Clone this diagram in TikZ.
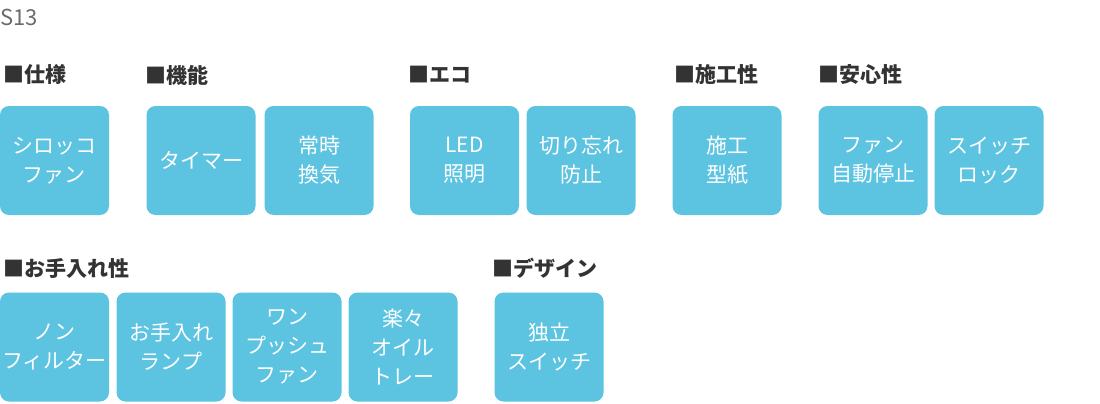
\documentclass[tikz,border=0pt]{standalone}
\usepackage{fontspec}
\setmainfont{Noto Sans CJK JP}
\usetikzlibrary{positioning}
\definecolor{featblue}{HTML}{5CC3E1}
\definecolor{headgray}{HTML}{333333}
\tikzset{
    feat/.style={
        fill=featblue,
        rounded corners=9pt,
        minimum width=109pt,
        minimum height=109pt,
        inner sep=0pt,
        text=white,
        align=center,
        font=\fontsize{21pt}{29pt}\selectfont
    },
    head/.style={
        anchor=west,
        inner sep=0pt,
        text=headgray,
        font=\bfseries\fontsize{21pt}{25pt}\selectfont
    }
}
\begin{document}
\begin{tikzpicture}[x=1pt,y=1pt]
    \useasboundingbox (0,0) rectangle (1100,-404);
    % Title
    \node[head, font=\fontsize{22pt}{26pt}\selectfont, text=gray!85!black] (title) at (0,-17) {S13};
    % Headers - row 1
    \node[head] (hspec) at (3,-75) {■仕様};
    \node[head] (hfunc) at (145,-75) {■機能};
    \node[head] (heco) at (408,-75) {■エコ};
    \node[head] (hwork) at (674,-75) {■施工性};
    \node[head] (hsafe) at (818,-75) {■安心性};
    % Boxes - row 1
    \node[feat] (sirocco) at (54.5,-160.5) {シロッコ\\ファン};
    \node[feat] (timer) at (201,-160.5) {タイマー};
    \node[feat] (vent) at (319,-160.5) {常時\\換気};
    \node[feat] (led) at (464.5,-160.5) {LED\\照明};
    \node[feat] (forget) at (581,-160.5) {切り忘れ\\防止};
    \node[feat] (paper) at (727,-160.5) {施工\\型紙};
    \node[feat] (stop) at (873,-160.5) {ファン\\自動停止};
    \node[feat] (lock) at (989,-160.5) {スイッチ\\ロック};
    % Headers - row 2
    \node[head] (hcare) at (3,-268) {■お手入れ性};
    \node[head] (hdesign) at (492,-268) {■デザイン};
    % Boxes - row 2
    \node[feat] (nofilter) at (54.5,-347) {ノン\\フィルター};
    \node[feat] (lamp) at (171,-347) {お手入れ\\ランプ};
    \node[feat] (push) at (287,-347) {ワン\\プッシュ\\ファン};
    \node[feat] (tray) at (403,-347) {楽々\\オイル\\トレー};
    \node[feat] (switch) at (549,-347) {独立\\スイッチ};
\end{tikzpicture}
\end{document}
